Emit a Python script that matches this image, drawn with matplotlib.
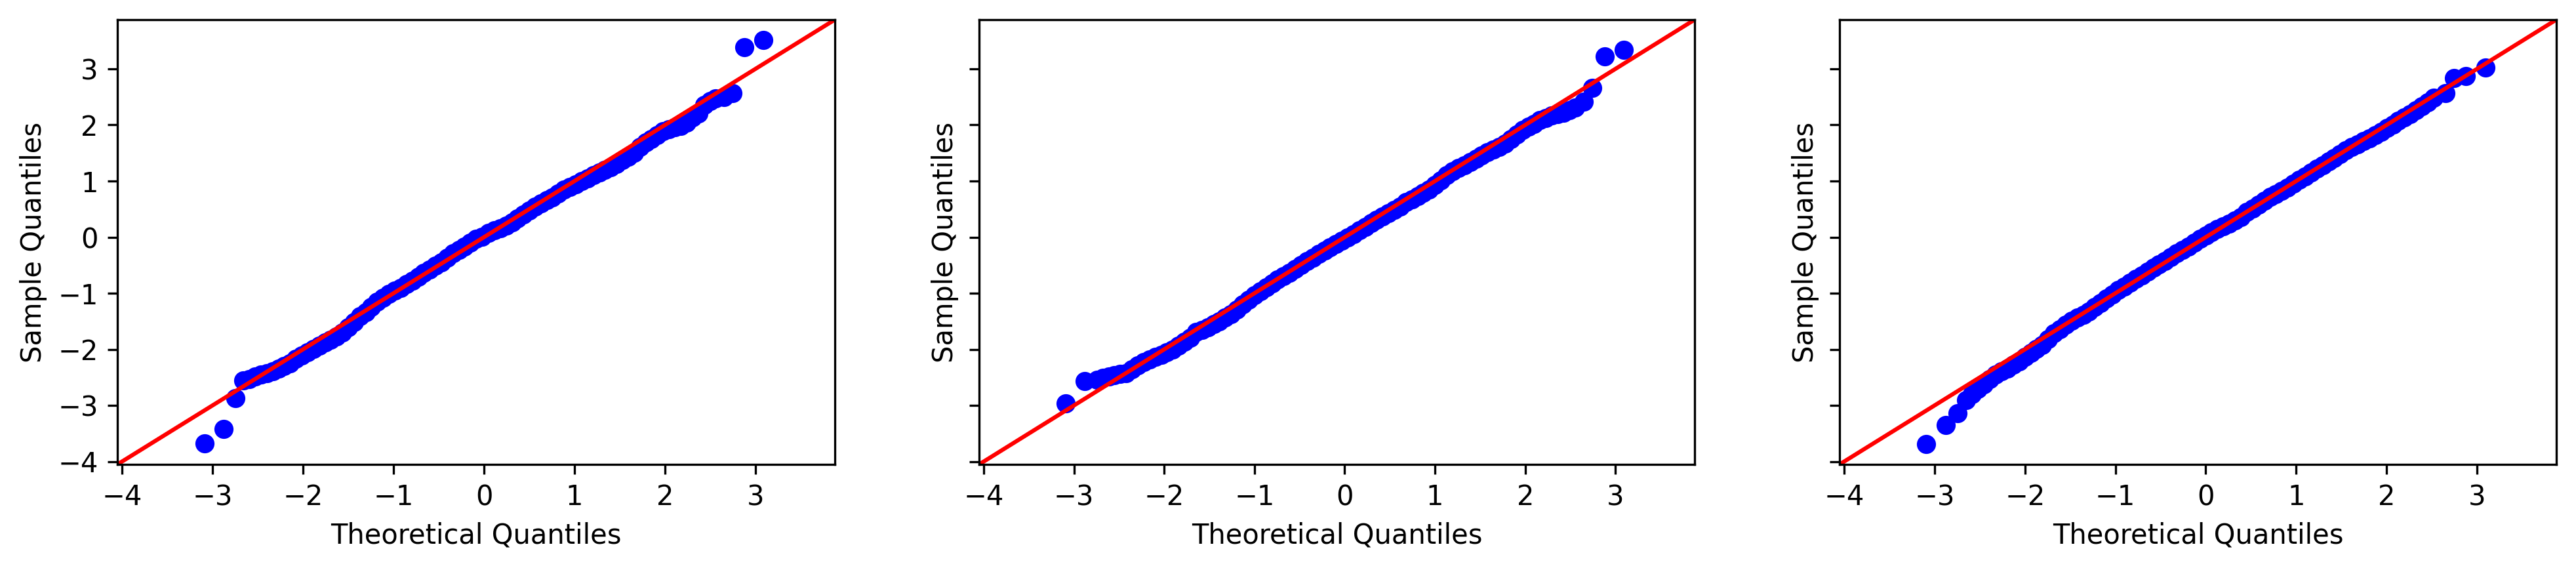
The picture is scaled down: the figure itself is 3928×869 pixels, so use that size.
# -*- coding: utf-8 -*-
# Normal Q-Q plots of three samples (n=1000), 45 degree reference line

import matplotlib
matplotlib.use('Agg')
import matplotlib.pyplot as plt

# panel 1 - theoretical vs sample quantiles
theo_1 = [-3.09, -2.878, -2.745, -2.658, -2.593, -2.528, -2.466, -2.401, -2.336,
          -2.271, -2.209, -2.144, -2.079, -2.014, -1.951, -1.886, -1.822, -1.757,
          -1.694, -1.629, -1.565, -1.5, -1.437, -1.372, -1.307, -1.243, -1.18,
          -1.115, -1.05, -0.985, -0.923, -0.858, -0.793, -0.728, -0.666, -0.601,
          -0.536, -0.471, -0.409, -0.344, -0.279, -0.214, -0.151, -0.086, -0.019,
          0.048, 0.113, 0.178, 0.243, 0.308, 0.372, 0.435, 0.5, 0.565, 0.627,
          0.692, 0.757, 0.822, 0.887, 0.952, 1.014, 1.079, 1.144, 1.209, 1.274,
          1.336, 1.401, 1.466, 1.531, 1.593, 1.658, 1.723, 1.786, 1.851, 1.915,
          1.98, 2.045, 2.11, 2.173, 2.237, 2.302, 2.367, 2.432, 2.497, 2.559,
          2.652, 2.745, 2.878, 3.09]
samp_1 = [-3.68, -3.42, -2.87, -2.55, -2.528, -2.481, -2.446, -2.421, -2.385,
          -2.341, -2.297, -2.25, -2.169, -2.106, -2.049, -1.991, -1.929, -1.871,
          -1.825, -1.774, -1.705, -1.605, -1.517, -1.412, -1.333, -1.243, -1.152,
          -1.082, -1.014, -0.957, -0.902, -0.838, -0.773, -0.705, -0.64, -0.579,
          -0.513, -0.444, -0.367, -0.282, -0.223, -0.164, -0.093, -0.023, 0.012,
          0.073, 0.12, 0.163, 0.207, 0.258, 0.33, 0.40, 0.474, 0.541, 0.601,
          0.657, 0.708, 0.778, 0.851, 0.899, 0.944, 0.996, 1.049, 1.106, 1.157,
          1.197, 1.248, 1.308, 1.374, 1.431, 1.50, 1.612, 1.686, 1.751, 1.823,
          1.891, 1.927, 1.96, 1.985, 2.046, 2.129, 2.203, 2.36, 2.43, 2.47,
          2.50, 2.572, 3.386, 3.516]

# panel 2
theo_2 = [-3.09, -2.878, -2.743, -2.679, -2.614, -2.55, -2.485, -2.421, -2.356,
          -2.292, -2.227, -2.162, -2.098, -2.033, -1.969, -1.904, -1.84, -1.775,
          -1.71, -1.646, -1.581, -1.517, -1.452, -1.388, -1.323, -1.258, -1.194,
          -1.129, -1.065, -1.0, -0.936, -0.871, -0.806, -0.742, -0.677, -0.613,
          -0.548, -0.484, -0.419, -0.355, -0.29, -0.225, -0.161, -0.096, -0.032,
          0.033, 0.097, 0.162, 0.227, 0.291, 0.356, 0.42, 0.485, 0.55, 0.614,
          0.679, 0.743, 0.808, 0.872, 0.937, 1.001, 1.066, 1.13, 1.195, 1.26,
          1.324, 1.389, 1.454, 1.518, 1.583, 1.647, 1.712, 1.776, 1.841, 1.905,
          1.97, 2.035, 2.099, 2.164, 2.228, 2.293, 2.357, 2.422, 2.487, 2.551,
          2.652, 2.745, 2.878, 3.09]
samp_2 = [-2.96, -2.571, -2.538, -2.511, -2.484, -2.463, -2.437, -2.42, -2.356,
          -2.285, -2.227, -2.176, -2.135, -2.093, -2.049, -2.001, -1.93, -1.868,
          -1.793, -1.688, -1.651, -1.609, -1.552, -1.499, -1.437, -1.37, -1.293,
          -1.201, -1.11, -1.034, -0.963, -0.891, -0.822, -0.757, -0.693, -0.632,
          -0.568, -0.502, -0.428, -0.363, -0.297, -0.237, -0.175, -0.117, -0.062,
          -0.002, 0.058, 0.128, 0.184, 0.253, 0.313, 0.37, 0.427, 0.487, 0.54,
          0.622, 0.672, 0.728, 0.785, 0.851, 0.93, 1.017, 1.10, 1.176, 1.232,
          1.285, 1.337, 1.396, 1.453, 1.509, 1.56, 1.612, 1.666, 1.75, 1.829,
          1.909, 1.968, 2.015, 2.087, 2.128, 2.169, 2.192, 2.216, 2.267, 2.308,
          2.42, 2.657, 3.22, 3.335]

# panel 3
theo_3 = [-3.09, -2.878, -2.745, -2.652, -2.582, -2.517, -2.453, -2.388, -2.324,
          -2.259, -2.194, -2.13, -2.065, -2.001, -1.936, -1.872, -1.807, -1.742,
          -1.678, -1.613, -1.549, -1.484, -1.42, -1.355, -1.291, -1.226, -1.161,
          -1.097, -1.032, -0.968, -0.903, -0.839, -0.774, -0.709, -0.645, -0.58,
          -0.516, -0.451, -0.387, -0.322, -0.257, -0.193, -0.128, -0.064, 0.001,
          0.065, 0.13, 0.195, 0.259, 0.324, 0.388, 0.453, 0.517, 0.582, 0.647,
          0.711, 0.776, 0.84, 0.905, 0.969, 1.034, 1.098, 1.163, 1.228, 1.292,
          1.357, 1.421, 1.486, 1.55, 1.615, 1.679, 1.744, 1.809, 1.873, 1.938,
          2.002, 2.067, 2.131, 2.196, 2.261, 2.325, 2.39, 2.454, 2.519, 2.652,
          2.745, 2.878, 3.09]
samp_3 = [-3.69, -3.352, -3.134, -2.909, -2.80, -2.70, -2.62, -2.532, -2.444,
          -2.395, -2.343, -2.272, -2.21, -2.134, -2.062, -1.995, -1.922, -1.82,
          -1.716, -1.646, -1.56, -1.487, -1.433, -1.39, -1.321, -1.246, -1.171,
          -1.096, -1.02, -0.945, -0.879, -0.808, -0.746, -0.687, -0.618, -0.547,
          -0.484, -0.422, -0.357, -0.29, -0.228, -0.163, -0.097, -0.03, 0.033,
          0.09, 0.142, 0.192, 0.245, 0.299, 0.357, 0.449, 0.515, 0.582, 0.648,
          0.714, 0.77, 0.82, 0.881, 0.952, 1.021, 1.086, 1.151, 1.217, 1.282,
          1.348, 1.414, 1.48, 1.545, 1.606, 1.657, 1.709, 1.759, 1.813, 1.876,
          1.943, 2.007, 2.072, 2.139, 2.197, 2.261, 2.335, 2.401, 2.488, 2.569,
          2.84, 2.876, 3.02]

panels = [(theo_1, samp_1), (theo_2, samp_2), (theo_3, samp_3)]

W, H, DPI = 3929, 869, 300
fig, axes = plt.subplots(1, 3, sharey=True, figsize=(W / DPI, H / DPI), dpi=DPI)

for ax, (x, y) in zip(axes, panels):
    ax.plot(x, y, marker='o', markersize=6, markerfacecolor='b',
            markeredgecolor='b', linestyle='none')
    ax.set_xlabel('Theoretical Quantiles')
    ax.set_ylabel('Sample Quantiles')

# 45 degree line over the common limits (like statsmodels qqline '45')
for ax in axes:
    xl, yl = ax.get_xlim(), ax.get_ylim()
    lims = [min(xl[0], yl[0]), max(xl[1], yl[1])]
    ax.plot(lims, lims, 'r-', linewidth=1.5)
    ax.set_xlim(lims)
    ax.set_ylim(lims)

boxes = [(179, 1094), (1493, 1091), (2805, 1093)]
for ax, (left, width) in zip(axes, boxes):
    ax.set_position([left / W, 1 - 708 / H, width / W, (708 - 30) / H])

fig.savefig('out.png', dpi=DPI)
